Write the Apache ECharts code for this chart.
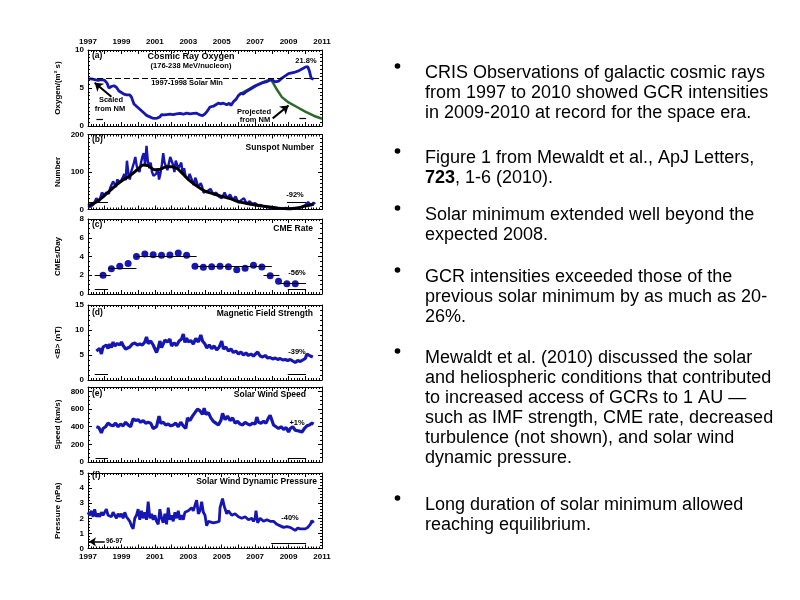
<!DOCTYPE html>
<html><head><meta charset="utf-8">
<script src="https://cdn.jsdelivr.net/npm/echarts@6/dist/echarts.min.js"></script>
<style>html,body{margin:0;padding:0;background:#fff}#c{width:800px;height:600px}</style>
</head><body><div id="c"></div>
<script>
// ---------------- DATA ----------------
const xTickYears = [1997,1999,2001,2003,2005,2007,2009,2011];

// (a) Cosmic ray oxygen
const oxygen = [[1997.0,6.2],[1997.2,6.2],[1997.4,6.1],[1997.6,6.0],[1997.8,6.1],[1998.0,6.0],[1998.15,5.6],[1998.25,5.0],[1998.4,5.2],[1998.55,5.3],[1998.7,5.1],[1998.85,4.6],[1999.0,4.4],[1999.15,4.2],[1999.3,4.1],[1999.5,4.1],[1999.6,3.8],[1999.75,2.9],[1999.9,2.6],[2000.05,2.3],[2000.2,2.0],[2000.35,1.7],[2000.5,1.4],[2000.7,1.2],[2000.85,1.05],[2001.0,1.0],[2001.15,1.05],[2001.3,1.2],[2001.4,1.5],[2001.55,1.45],[2001.7,1.5],[2001.9,1.55],[2002.1,1.5],[2002.3,1.6],[2002.5,1.65],[2002.7,1.55],[2002.9,1.7],[2003.1,1.6],[2003.3,1.65],[2003.5,1.7],[2003.65,1.5],[2003.85,1.35],[2004.0,1.6],[2004.15,2.0],[2004.3,2.5],[2004.5,2.6],[2004.65,2.8],[2004.8,3.0],[2004.95,2.9],[2005.1,3.0],[2005.3,2.8],[2005.45,3.0],[2005.55,2.7],[2005.7,3.2],[2005.85,3.5],[2006.0,4.0],[2006.15,4.3],[2006.3,4.2],[2006.45,4.5],[2006.6,4.7],[2006.75,4.9],[2006.9,5.1],[2007.05,5.3],[2007.25,5.5],[2007.45,5.7],[2007.65,5.8],[2007.85,6.0],[2008.0,6.1],[2008.2,5.8],[2008.4,5.9],[2008.6,6.3],[2008.8,6.6],[2009.0,6.9],[2009.2,7.0],[2009.4,7.1],[2009.6,7.25],[2009.8,7.5],[2010.0,7.75],[2010.15,7.8],[2010.25,7.2],[2010.35,6.3],[2010.5,6.15]];
const oxygenProjected = [[2006.1,4.2],[2006.5,4.7],[2006.9,5.2],[2007.3,5.6],[2007.7,5.95],[2007.95,6.15],[2008.3,4.8],[2008.6,3.8],[2009.0,3.1],[2009.5,2.5],[2010.0,1.9],[2010.5,1.35],[2011.0,0.95]];
const solarMinLevel = 6.25;
const oxygenAvgBars = [[1997.5,1997.9,0.84],[2009.65,2010.05,1.06]];
const oxygenArrows = [[1998.4,3.85,1997.4,5.7],[2008.05,1.0,2009.0,2.7]];

// (b) Sunspot number
const sunspot = [[1997.00,5],[1997.17,8],[1997.33,14],[1997.50,30],[1997.67,22],[1997.83,45],
 [1998.00,38],[1998.08,45],[1998.17,50],[1998.25,42],[1998.33,58],[1998.42,62],[1998.50,75],[1998.58,68],[1998.67,60],[1998.75,80],[1998.83,85],[1998.92,72],
 [1999.00,70],[1999.08,85],[1999.17,95],[1999.25,78],[1999.33,130],[1999.42,95],[1999.50,80],[1999.58,100],[1999.67,105],[1999.75,125],[1999.83,140],[1999.92,115],
 [2000.00,110],[2000.08,100],[2000.17,125],[2000.25,140],[2000.33,150],[2000.42,120],[2000.50,170],[2000.58,130],[2000.67,110],[2000.75,125],[2000.83,100],[2000.92,90],
 [2001.00,85],[2001.08,95],[2001.17,110],[2001.25,80],[2001.33,95],[2001.42,120],[2001.50,150],[2001.58,125],[2001.67,130],[2001.75,105],[2001.83,110],[2001.92,140],
 [2002.00,135],[2002.08,120],[2002.17,100],[2002.25,130],[2002.33,120],[2002.42,110],[2002.50,105],[2002.58,125],[2002.67,95],[2002.75,110],[2002.83,90],[2002.92,85],
 [2003.00,80],[2003.08,95],[2003.17,100],[2003.25,75],[2003.33,65],[2003.42,85],[2003.50,75],[2003.58,60],[2003.67,55],[2003.75,70],[2003.83,60],[2003.92,45],
 [2004.00,40],[2004.17,50],[2004.33,55],[2004.50,40],[2004.67,45],[2004.83,35],[2005.00,30],[2005.17,45],[2005.33,30],[2005.50,40],[2005.67,25],[2005.83,35],[2006.00,18],[2006.17,25],[2006.33,30],[2006.50,15],[2006.67,22],[2006.83,15],[2007.00,17],[2007.17,10],[2007.33,12],[2007.50,8],[2007.67,7],[2007.83,5],[2008.00,3],[2008.17,5],[2008.33,4],[2008.50,2],[2008.67,3],[2008.83,4],[2009.00,2],[2009.17,1],[2009.33,3],[2009.50,2],[2009.67,5],[2009.83,8],[2010.00,12],[2010.17,20],[2010.33,11],[2010.50,18],[2010.60,15]];
const sunspotSmooth = [[1997.0,10],[1997.5,20],[1998.0,38],[1998.5,58],[1999.0,76],[1999.5,90],[2000.0,108],[2000.3,119],[2000.6,117],[2001.0,106],[2001.3,107],[2001.7,114],[2002.0,114],[2002.3,110],[2002.5,103],[2003.0,80],[2003.5,63],[2004.0,49],[2004.5,42],[2005.0,35],[2005.5,29],[2006.0,21],[2006.5,16],[2007.0,12],[2007.5,9],[2008.0,6],[2008.5,3],[2009.0,2],[2009.5,4],[2010.0,9],[2010.5,14]];
const sunspotAvgBars = [[1997.0,1998.2,19],[2008.9,2010.05,19]];

// (c) CME rate
const cmeYears = [1997.9,1998.4,1998.9,1999.4,1999.9,2000.4,2000.9,2001.4,2001.9,2002.4,2002.9,2003.4,2003.9,2004.4,2004.9,2005.4,2005.9,2006.4,2006.9,2007.4,2007.9,2008.4,2008.9,2009.4];
const cmeRate = [2.0,2.7,2.95,3.25,4.0,4.27,4.2,4.13,4.16,4.38,4.13,2.95,2.85,2.92,2.95,2.92,2.6,2.74,3.06,2.88,1.96,1.35,1.1,1.1];
const cmeLevels = [[1997.4,1998.35,2.0],[1998.2,1999.9,2.8],[1999.9,2003.5,4.0],[2003.5,2008.0,2.95],[2007.5,2008.45,1.95],[2008.45,2010.05,1.1]];
const cmeAvgBars = [[1997.4,1998.2,0.46],[2008.95,2010.05,0.46]];

// (d) Magnetic field strength
const bField = [[1997.5,5.8],[1997.6,5.6],[1997.7,6.3],[1997.8,5.2],[1997.9,6.6],[1998.0,6.4],[1998.1,7.0],[1998.2,6.3],[1998.3,7.2],[1998.4,6.5],[1998.5,7.6],[1998.6,6.8],[1998.75,7.3],[1998.9,7.0],[1999.0,7.6],[1999.1,6.9],[1999.25,6.2],[1999.35,5.8],[1999.5,6.6],[1999.65,7.2],[1999.8,7.4],[1999.95,7.0],[2000.1,7.2],[2000.25,7.0],[2000.4,7.6],[2000.5,8.6],[2000.6,7.3],[2000.75,7.8],[2000.9,7.0],[2001.0,6.8],[2001.1,5.5],[2001.2,6.4],[2001.3,7.8],[2001.4,6.5],[2001.5,7.2],[2001.6,8.0],[2001.75,7.6],[2001.9,8.2],[2002.0,6.8],[2002.15,7.4],[2002.3,6.9],[2002.45,7.8],[2002.6,8.2],[2002.7,9.2],[2002.8,7.5],[2002.9,8.4],[2003.0,7.6],[2003.15,7.9],[2003.3,7.2],[2003.45,8.3],[2003.6,7.6],[2003.75,9.0],[2003.85,7.8],[2004.0,7.2],[2004.1,6.4],[2004.25,7.0],[2004.4,6.3],[2004.55,6.8],[2004.7,6.0],[2004.85,6.6],[2005.0,7.8],[2005.1,6.2],[2005.25,6.6],[2005.4,5.8],[2005.55,6.2],[2005.7,5.5],[2005.85,5.8],[2006.0,5.2],[2006.15,5.6],[2006.3,5.0],[2006.45,5.4],[2006.6,4.9],[2006.75,5.2],[2006.9,4.8],[2007.0,5.0],[2007.15,5.6],[2007.3,4.8],[2007.45,4.6],[2007.6,4.9],[2007.75,4.4],[2007.9,4.5],[2008.05,4.2],[2008.2,4.4],[2008.35,4.1],[2008.5,4.3],[2008.65,4.0],[2008.8,4.1],[2008.95,3.9],[2009.1,4.1],[2009.25,3.8],[2009.4,3.5],[2009.55,3.9],[2009.7,3.7],[2009.85,4.0],[2010.0,4.3],[2010.1,5.2],[2010.2,5.0],[2010.3,4.8],[2010.45,4.6]];
const bFieldAvgBars = [[1997.4,1998.2,1.2],[2008.95,2010.05,1.2]];

// (e) Solar wind speed
const windSpeed = [[1997.5,400],[1997.65,390],[1997.8,330],[1997.9,380],[1998.05,400],[1998.2,440],[1998.35,420],[1998.5,410],[1998.65,440],[1998.8,400],[1998.95,430],[1999.1,410],[1999.25,450],[1999.4,420],[1999.55,400],[1999.7,490],[1999.85,470],[2000.0,480],[2000.15,450],[2000.3,470],[2000.45,440],[2000.6,450],[2000.75,440],[2000.9,380],[2001.0,360],[2001.1,400],[2001.25,520],[2001.35,440],[2001.5,450],[2001.65,420],[2001.8,430],[2001.95,410],[2002.1,420],[2002.25,440],[2002.4,400],[2002.55,450],[2002.7,410],[2002.85,380],[2002.95,500],[2003.1,470],[2003.25,520],[2003.4,560],[2003.55,600],[2003.7,580],[2003.85,540],[2003.95,610],[2004.05,540],[2004.2,560],[2004.35,500],[2004.5,460],[2004.65,440],[2004.8,420],[2004.95,470],[2005.05,550],[2005.2,480],[2005.35,520],[2005.5,470],[2005.65,500],[2005.8,440],[2005.95,460],[2006.1,430],[2006.25,420],[2006.4,450],[2006.55,430],[2006.7,420],[2006.85,440],[2007.0,430],[2007.1,510],[2007.2,450],[2007.35,440],[2007.5,460],[2007.65,440],[2007.8,500],[2007.9,530],[2008.0,510],[2008.1,420],[2008.25,400],[2008.4,380],[2008.55,400],[2008.7,370],[2008.85,390],[2009.0,340],[2009.1,380],[2009.25,400],[2009.4,360],[2009.5,340],[2009.65,350],[2009.8,340],[2009.95,380],[2010.1,410],[2010.25,420],[2010.4,440],[2010.5,430]];
const windAvgBars = [[1997.45,1998.2,38],[2008.95,2010.05,38]];

// (f) Solar wind dynamic pressure
const pressure = [[1997.0,2.4],[1997.1,2.2],[1997.2,2.5],[1997.3,2.1],[1997.4,2.6],[1997.5,2.1],[1997.6,2.3],[1997.7,2.1],[1997.8,2.4],[1997.9,2.2],[1998.0,2.2],[1998.1,2.6],[1998.2,2.2],[1998.3,2.3],[1998.4,2.1],[1998.5,2.4],[1998.6,2.2],[1998.7,2.0],[1998.8,2.3],[1998.9,2.1],[1999.0,2.3],[1999.1,2.0],[1999.2,2.4],[1999.3,2.1],[1999.4,2.2],[1999.5,1.8],[1999.6,1.5],[1999.7,1.3],[1999.8,2.0],[1999.9,2.2],[2000.0,2.6],[2000.1,1.9],[2000.2,2.5],[2000.3,2.0],[2000.4,2.4],[2000.5,1.9],[2000.6,3.1],[2000.7,2.0],[2000.8,2.3],[2000.9,1.9],[2001.0,2.2],[2001.1,1.8],[2001.2,1.6],[2001.3,2.6],[2001.4,2.0],[2001.5,1.7],[2001.6,2.3],[2001.7,1.6],[2001.8,2.7],[2001.9,1.9],[2002.0,2.2],[2002.1,1.8],[2002.2,2.4],[2002.3,2.0],[2002.4,2.5],[2002.5,1.9],[2002.6,2.2],[2002.7,1.9],[2002.8,2.4],[2002.9,2.3],[2003.0,2.5],[2003.1,2.4],[2003.2,2.7],[2003.3,2.5],[2003.4,2.6],[2003.5,3.2],[2003.6,2.3],[2003.7,2.5],[2003.8,3.1],[2003.9,2.4],[2004.0,2.2],[2004.1,1.5],[2004.2,1.8],[2004.3,1.7],[2004.5,1.7],[2004.7,1.75],[2004.85,1.8],[2004.9,2.7],[2005.0,3.1],[2005.05,3.3],[2005.15,2.8],[2005.3,2.3],[2005.4,2.5],[2005.5,2.4],[2005.6,2.2],[2005.8,2.3],[2006.0,2.1],[2006.2,2.0],[2006.4,2.1],[2006.6,1.9],[2006.8,2.0],[2006.9,1.8],[2007.0,2.0],[2007.05,2.5],[2007.15,1.7],[2007.3,2.0],[2007.5,1.8],[2007.7,1.9],[2007.9,1.8],[2008.1,1.8],[2008.3,1.6],[2008.5,1.5],[2008.7,1.4],[2008.9,1.45],[2009.1,1.4],[2009.25,1.3],[2009.4,1.2],[2009.55,1.35],[2009.7,1.3],[2009.85,1.3],[2010.0,1.3],[2010.15,1.4],[2010.3,1.6],[2010.4,1.85],[2010.5,1.7]];
const pressureAvgBars = [[2007.96,2010.05,0.33]];
const pressureArrow = [[1998.0,0.44,1997.06,0.44]];

// ---------------- LAYOUT ----------------
const BLUE = '#1616b2', GREEN = '#2b6a2b';
const FONT = '"Liberation Sans", Arial, Helvetica, sans-serif';
const panels = [
  {top:50,   height:76,   min:0, max:10,  interval:5,   minor:10, name:'Oxygen/(m² s)'},
  {top:134.5,height:75,   min:0, max:200, interval:100, minor:10, name:'Number'},
  {top:219,  height:75,   min:0, max:8,   interval:2,   minor:4,  name:'CMEs/Day'},
  {top:305,  height:75,   min:0, max:15,  interval:5,   minor:5,  name:'<B> (nT)'},
  {top:387,  height:75,   min:0, max:850, interval:200, minor:4,  name:'Speed (km/s)'},
  {top:473,  height:75.5, min:0, max:5,   interval:1,   minor:5,  name:'Pressure (nPa)'}
];

const grid = [], xAxis = [], yAxis = [];
const lineBlack = {color:'#000', width:1};
panels.forEach((p, i) => {
  grid.push({left:88, width:234, top:p.top, height:p.height});
  ['bottom','top'].forEach(pos => {
    const showLab = (pos === 'top' && i === 0) || (pos === 'bottom' && i === 5);
    xAxis.push({gridIndex:i, type:'value', min:1997, max:2011, interval:1, position:pos,
      axisLine:{show:true, onZero:false, lineStyle:lineBlack},
      axisTick:{show:true, inside:true, length:4, lineStyle:lineBlack},
      minorTick:{show:true, splitNumber:6, length:2, lineStyle:lineBlack},
      splitLine:{show:false},
      axisLabel:{show:showLab, margin:4, fontSize:8, fontWeight:'bold', color:'#000', fontFamily:FONT,
        formatter: v => xTickYears.indexOf(v) >= 0 ? String(v) : ''}
    });
  });
  ['left','right'].forEach(pos => {
    yAxis.push({gridIndex:i, type:'value', min:p.min, max:p.max, interval:p.interval, position:pos,
      name: pos === 'left' ? p.name : '', nameLocation:'middle', nameGap:26,
      nameTextStyle:{fontSize:8, fontWeight:'bold', color:'#000', fontFamily:FONT},
      axisLine:{show:true, onZero:false, lineStyle:lineBlack},
      axisTick:{show:true, inside:true, length:4, lineStyle:lineBlack},
      minorTick:{show:true, splitNumber:p.minor, length:2, lineStyle:lineBlack},
      splitLine:{show:false},
      axisLabel:{show:pos === 'left', margin:4, fontSize:8, fontWeight:'bold', color:'#000', fontFamily:FONT,
        formatter: v => (v % p.interval === 0) ? String(v) : ''}
    });
  });
});

function segs(list, width) {
  return list.map(s => [{coord:[s[0], s[2]], lineStyle:{color:'#000', width:width, type:'solid'}}, {coord:[s[1], s[2]]}]);
}
function mlines(list, width) {
  return {silent:true, symbol:['none','none'], label:{show:false}, animation:false,
          lineStyle:{color:'#000', width:width, type:'solid'}, data: segs(list, width)};
}
function arrowLines(list) {
  return {silent:true, symbol:['none','arrow'], symbolSize:8, label:{show:false}, animation:false,
          lineStyle:{color:'#000', width:2, type:'solid'},
          data: list.map(a => [{coord:[a[0], a[1]]}, {coord:[a[2], a[3]]}])};
}
function line(i, data, color, width, extra) {
  return Object.assign({type:'line', xAxisIndex:2*i, yAxisIndex:2*i, data:data, showSymbol:false, symbol:'none',
    lineStyle:{color:color, width:width}, itemStyle:{color:color}, silent:true, animation:false}, extra || {});
}

const series = [
  line(0, oxygenProjected, GREEN, 2.5, {z:2, markLine: arrowLines(oxygenArrows)}),
  line(0, oxygen, BLUE, 2.8, {z:3, markLine: {silent:true, symbol:['none','none'], label:{show:false}, animation:false,
      data: segs(oxygenAvgBars, 1.2).concat([[{coord:[1997, solarMinLevel], lineStyle:{color:'#000', width:1, type:[6,3]}}, {coord:[2011, solarMinLevel]}]])}}),
  line(1, sunspot, BLUE, 2.4, {z:2, markLine: mlines(sunspotAvgBars, 1)}),
  line(1, sunspotSmooth, '#000', 3, {z:3, smooth:0.4}),
  {type:'scatter', xAxisIndex:4, yAxisIndex:4, data: cmeYears.map((y, k) => [y, cmeRate[k]]), symbolSize:7,
    itemStyle:{color:BLUE, opacity:1}, silent:true, animation:false, z:3,
    markLine: mlines(cmeLevels.concat(cmeAvgBars), 1)},
  line(3, bField, BLUE, 3.2, {markLine: mlines(bFieldAvgBars, 1)}),
  line(4, windSpeed, BLUE, 3.2, {markLine: mlines(windAvgBars, 1)}),
  line(5, pressure, BLUE, 2.8, {markLine: {silent:true, symbol:['none','none'], label:{show:false}, animation:false,
      data: segs(pressureAvgBars, 1).concat(pressureArrow.map(a => [{coord:[a[0], a[1]], symbol:'none', lineStyle:{color:'#000', width:1.5, type:'solid'}}, {coord:[a[2], a[3]], symbol:'arrow', symbolSize:7}]))}})
];

// ---------------- TEXT ----------------
function T(text, x, y, size, align, weight) {
  return {type:'text', silent:true, z:100, style:{text:text, x:x, y:y, fill:'#000',
    font:(weight || 'bold') + ' ' + size + 'px ' + FONT,
    textAlign:align || 'left', align:align || 'left', textVerticalAlign:'middle', verticalAlign:'middle'}};
}
const panelTexts = [
  T('(a)', 92, 56, 8.5), T('Cosmic Ray Oxygen', 191, 57, 9, 'center'), T('(176-238 MeV/nucleon)', 191, 66, 7.5, 'center'),
  T('21.8%', 306, 61, 7.5, 'center'), T('1997-1998 Solar Min', 187, 83, 7.5, 'center'),
  T('Scaled', 111, 100, 7.5, 'center'), T('from NM', 110, 108.5, 7.5, 'center'),
  T('Projected', 254, 112, 7.5, 'center'), T('from NM', 255, 119.5, 7.5, 'center'),
  T('(b)', 92, 140, 8.5), T('Sunspot Number', 314, 148, 8.5, 'right'), T('-92%', 295, 195, 7.5, 'center'),
  T('(c)', 92, 225, 8.5), T('CME Rate', 313, 229, 8.5, 'right'), T('-56%', 297, 273, 7.5, 'center'),
  T('(d)', 92, 313, 8.5), T('Magnetic Field Strength', 313, 314, 8.5, 'right'), T('-39%', 297, 352, 7.5, 'center'),
  T('(e)', 92, 394, 8.5), T('Solar Wind Speed', 306, 395, 8.5, 'right'), T('+1%', 297, 423, 7.5, 'center'),
  T('(f)', 92, 476, 8.5), T('Solar Wind Dynamic Pressure', 317, 482, 8.5, 'right'), T('-40%', 290, 518, 7.5, 'center'),
  T('96-97', 106, 541.5, 6.5, 'left')
];

const bullets = [
  {y:63,  text:'CRIS Observations of galactic cosmic rays\nfrom 1997 to 2010 showed GCR intensities\nin 2009-2010 at record for the space era.'},
  {y:148, text:'Figure 1 from Mewaldt et al., ApJ Letters,\n{b|723}, 1-6 (2010).'},
  {y:205, text:'Solar minimum extended well beyond the\nexpected 2008.'},
  {y:267, text:'GCR intensities exceeded those of the\nprevious solar minimum by as much as 20-\n26%.'},
  {y:348, text:'Mewaldt et al. (2010) discussed the solar\nand heliospheric conditions that contributed\nto increased access of GCRs to 1 AU —\nsuch as IMF strength, CME rate, decreased\nturbulence (not shown), and solar wind\ndynamic pressure.'},
  {y:495, text:'Long duration of solar minimum allowed\nreaching equilibrium.'}
];
const bulletGraphics = [];
bullets.forEach(b => {
  bulletGraphics.push({type:'circle', silent:true, shape:{cx:397.5, cy:b.y + 3, r:2.8}, style:{fill:'#000'}});
  bulletGraphics.push({type:'text', silent:true, style:{text:b.text, x:425, y:b.y, fill:'#000',
    font:'normal 18px ' + FONT, lineHeight:20, textAlign:'left', align:'left', textVerticalAlign:'top', verticalAlign:'top',
    rich:{b:{fontWeight:'bold', fontSize:18, fontFamily:FONT, lineHeight:20, fill:'#000'}}}});
});

const chart = echarts.init(document.getElementById('c'), null, {renderer:'canvas'});
chart.setOption({
  animation:false,
  backgroundColor:'#fff',
  grid: grid, xAxis: xAxis, yAxis: yAxis, series: series,
  graphic: panelTexts.concat(bulletGraphics)
});
</script>
</body></html>
